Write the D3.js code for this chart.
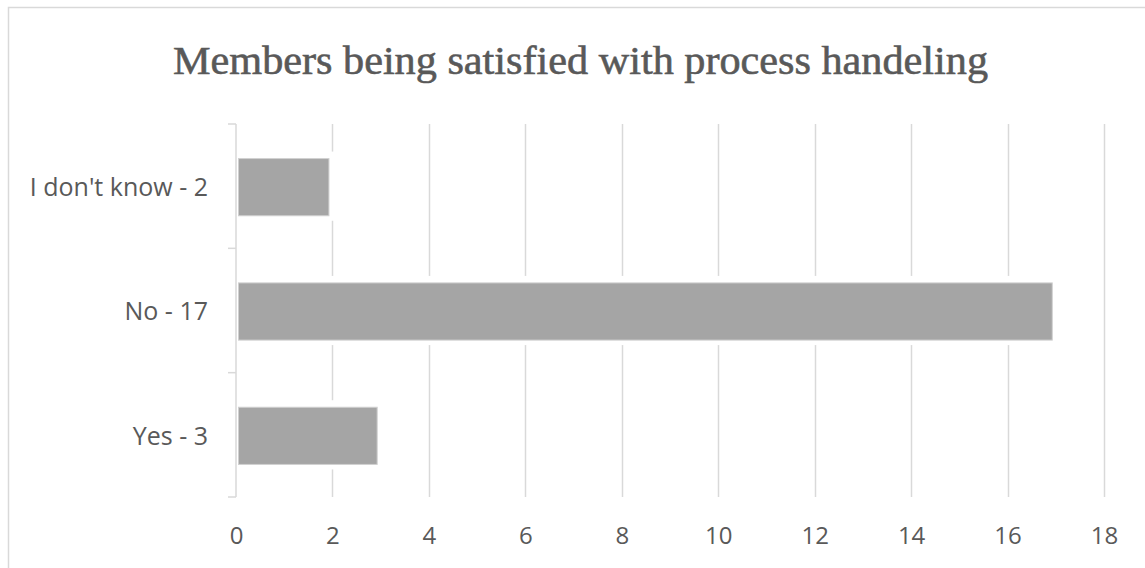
<!DOCTYPE html>
<html><head><meta charset="utf-8">
<script src="https://cdn.jsdelivr.net/npm/d3@7"></script>
<style>html,body{margin:0;padding:0;background:#fff;}svg{display:block;}</style>
</head><body>
<script>
const categories = ["I don't know - 2", "No - 17", "Yes - 3"];
const values = [2, 17, 3];
const xTicks = [0, 2, 4, 6, 8, 10, 12, 14, 16, 18];
const title = "Members being satisfied with process handeling";

(function () {
const W = 1145, H = 568;
const svg = d3.select("body").append("svg").attr("width", W).attr("height", H);

// outer chart border
svg.append("rect").attr("x", 8.5).attr("y", 7.5).attr("width", W + 20).attr("height", H + 20)
  .attr("fill", "#fff").attr("stroke", "#d9d9d9").attr("stroke-width", 1.5);

const pLeft = 236, pRight = 1104, pTop = 124, pBottom = 497;
const x = d3.scaleLinear().domain([0, 18]).range([pLeft, pRight]);
const y = d3.scaleBand().domain(categories).range([pTop, pBottom]).paddingInner(0.54).paddingOuter(0.27);

// title
svg.append("text").attr("x", 580.5).attr("y", 74).attr("text-anchor", "middle")
  .attr("font-family", "'Liberation Serif', 'DejaVu Serif', serif").attr("font-size", 41)
  .attr("fill", "#595959").attr("stroke", "#595959").attr("stroke-width", 0.6)
  .attr("textLength", 815).attr("lengthAdjust", "spacingAndGlyphs")
  .text(title);

// gridlines
svg.append("g").selectAll("line").data(xTicks.filter(d => d > 0)).join("line")
  .attr("x1", d => Math.round(x(d)) + 0.5).attr("x2", d => Math.round(x(d)) + 0.5)
  .attr("y1", pTop).attr("y2", pBottom)
  .attr("stroke", "#d9d9d9").attr("stroke-width", 1.5);

// white halo behind bars (hides gridlines near bars)
svg.append("g").selectAll("rect").data(values).join("rect")
  .attr("x", x(0) + 1).attr("y", (d, i) => y(categories[i]) - 6)
  .attr("width", d => x(d) - x(0) + 2).attr("height", y.bandwidth() + 12)
  .attr("fill", "#fff");

// bars
svg.append("g").selectAll("rect").data(values).join("rect")
  .attr("x", x(0) + 2.5).attr("y", (d, i) => y(categories[i]) + 1)
  .attr("width", d => x(d) - x(0) - 6).attr("height", y.bandwidth())
  .attr("fill", "#a5a5a5").attr("stroke", "#d0d0d0").attr("stroke-width", 1);

// y axis
const yAxis = svg.append("g").attr("transform", `translate(${pLeft},0)`);
yAxis.append("line").attr("x1", 0).attr("x2", 0).attr("y1", pTop).attr("y2", pBottom)
  .attr("stroke", "#d9d9d9").attr("stroke-width", 1.5);
const bounds = [pTop].concat(categories.map(c => y(c) + y.bandwidth() + y.step() * y.paddingInner() / 2));
yAxis.selectAll("line.tk").data(bounds).join("line").attr("class", "tk")
  .attr("x1", -8).attr("x2", 0).attr("y1", d => d).attr("y2", d => d)
  .attr("stroke", "#d9d9d9").attr("stroke-width", 1.5);
yAxis.selectAll("text").data(categories).join("text")
  .attr("x", -28).attr("y", c => y(c) + y.bandwidth() / 2 + 1).attr("dy", "0.35em")
  .attr("text-anchor", "end").attr("font-family", "'Open Sans', sans-serif").attr("font-size", 25)
  .attr("fill", "#595959").text(c => c);

// x tick labels
const xAxis = d3.axisBottom(x).tickValues(xTicks).tickSize(0).tickPadding(0);
const gx = svg.append("g").attr("transform", `translate(0,${pBottom})`).call(xAxis);
gx.select(".domain").remove();
gx.selectAll("text").attr("y", 39).attr("dy", "0.35em")
  .attr("font-family", "'Open Sans', sans-serif").attr("font-size", 24).attr("fill", "#595959");
})();
</script>
</body></html>
